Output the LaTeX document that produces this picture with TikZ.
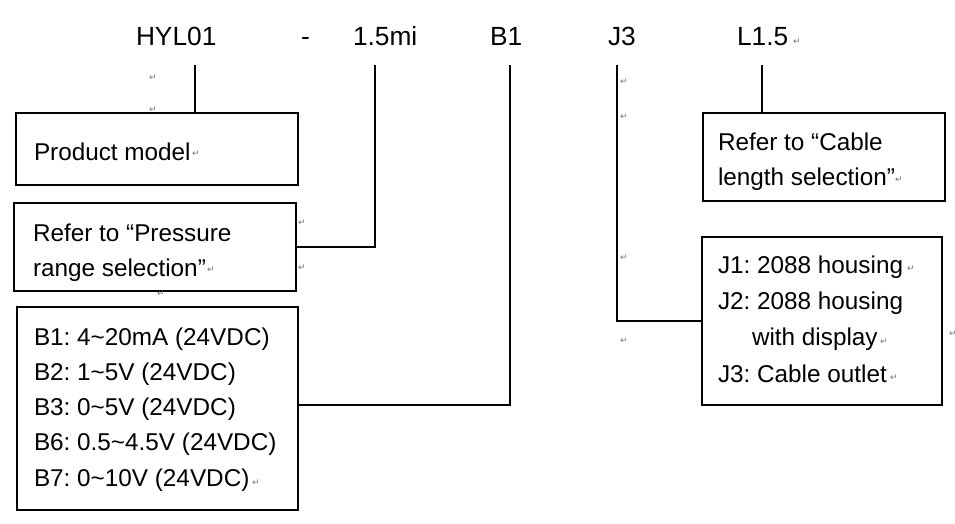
\documentclass[tikz,border=0pt]{standalone}
\usepackage{fontspec}
\setmainfont{Liberation Sans}
\newfontfamily\retfont{DejaVu Sans}
\frenchspacing
\begin{document}
\begin{tikzpicture}[x=1pt,y=-1pt,
  every node/.style={inner sep=0pt, outer sep=0pt},
  lbl/.style={font=\fontsize{24.3}{29}\selectfont, anchor=base west},
  code/.style={font=\fontsize{26.3}{31}\selectfont, anchor=base west},
  boxstyle/.style={draw, line width=1.3pt, anchor=north west},
  conn/.style={line width=1.1pt},
  ret/.style={font=\retfont\fontsize{9}{10}\selectfont, text=black!55, anchor=center}]
\useasboundingbox (0,0) rectangle (955,524);

% top code labels
\node[code] (hyl) at (136,46) {HYL01};
\node[code] (dash) at (301,46) {-};
\node[code] (mi) at (353,46) {1.5mi};
\node[code] (b1) at (490,46) {B1};
\node[code] (j3) at (608,46) {J3};
\node[code] (l15) at (737,46) {L1.5};

% boxes
\node[boxstyle, minimum width=282pt, minimum height=72pt] (pm) at (16,113) {};
\node[boxstyle, minimum width=282pt, minimum height=88pt] (pr) at (14,203) {};
\node[boxstyle, minimum width=281pt, minimum height=203pt] (bb) at (17,307) {};
\node[boxstyle, minimum width=242pt, minimum height=88pt] (cb) at (703,113) {};
\node[boxstyle, minimum width=240pt, minimum height=168pt] (jb) at (702,237) {};

% box texts
\node[lbl] (pmt) at (34,160) {Product model};
\node[lbl] (pr1) at (33,241) {Refer to “Pressure};
\node[lbl] (pr2) at (33,276) {range selection”};
\node[lbl] (bt1) at (34,345) {B1: 4\textasciitilde 20mA (24VDC)};
\node[lbl] (bt2) at (34,380.3) {B2: 1\textasciitilde 5V (24VDC)};
\node[lbl] (bt3) at (34,415.6) {B3: 0\textasciitilde 5V (24VDC)};
\node[lbl] (bt4) at (34,450.9) {B6: 0.5\textasciitilde 4.5V (24VDC)};
\node[lbl] (bt5) at (34,486.2) {B7: 0\textasciitilde 10V (24VDC)};
\node[lbl] (cb1) at (718,150.5) {Refer to “Cable};
\node[lbl] (cb2) at (718,185.5) {length selection”};
\node[lbl] (jt1) at (718,273) {J1: 2088 housing};
\node[lbl] (jt2) at (718,309) {J2: 2088 housing};
\node[lbl] (jt3) at (752,345.5) {with display};
\node[lbl] (jt4) at (718,382) {J3: Cable outlet};

% connector tops
\coordinate (t1) at (195,65);
\coordinate (t2) at (375,65);
\coordinate (t3) at (510,65);
\coordinate (t4) at (617,65);
\coordinate (t5) at (762,65);
\coordinate (k3) at (510,405);

\draw[conn] (t1) -- (t1 |- pm.north);
\draw[conn] (t2) |- (pr.east);
\draw[conn] (t3) -- (k3) -- (k3 -| bb.east);
\draw[conn] (t4) |- (jb.west);
\draw[conn] (t5) -- (t5 |- cb.north);

% paragraph marks
\node[ret] (r1) at (153,78) {↵};
\node[ret] (r2) at (153,110) {↵};
\node[ret] (r3) at (196,154) {↵};
\node[ret] (r4) at (302,223) {↵};
\node[ret] (r5) at (302,268) {↵};
\node[ret] (r6) at (211,270) {↵};
\node[ret] (r7) at (161,294) {↵};
\node[ret] (r8) at (256,483) {↵};
\node[ret] (r9) at (624,82) {↵};
\node[ret] (r10) at (624,117) {↵};
\node[ret] (r11) at (624,258) {↵};
\node[ret] (r12) at (624,341) {↵};
\node[ret] (r13) at (797,42) {↵};
\node[ret] (r14) at (899,180) {↵};
\node[ret] (r15) at (911,269) {↵};
\node[ret] (r16) at (884,342) {↵};
\node[ret] (r17) at (894,378) {↵};
\node[ret] (r18) at (953,334) {↵};
\end{tikzpicture}
\end{document}
